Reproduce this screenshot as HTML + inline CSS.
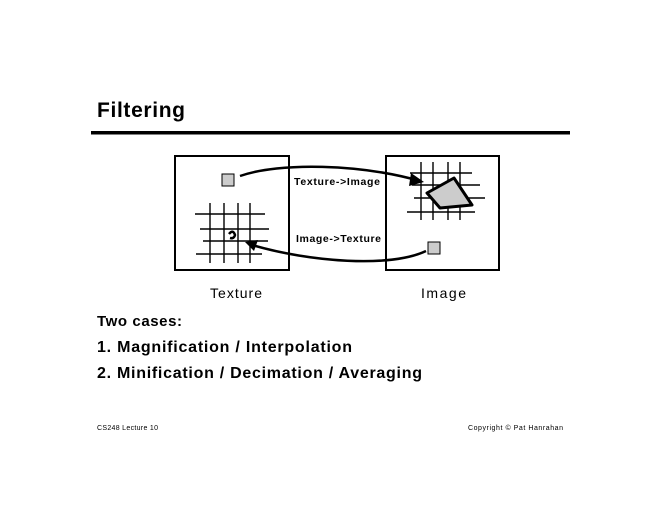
<!DOCTYPE html>
<html><head><style>
html,body{margin:0;padding:0;background:#fff;}
svg{display:block;font-family:"Liberation Sans",sans-serif;}
</style></head><body>
<svg width="660" height="510" viewBox="0 0 660 510">
<rect width="660" height="510" fill="#fff"/>
<text x="97" y="117" font-size="21" font-weight="bold" textLength="88">Filtering</text>
<rect x="91" y="131" width="479" height="3.5" fill="#000"/>
<rect x="175" y="156" width="114" height="114" fill="none" stroke="#000" stroke-width="2"/>
<rect x="386" y="156" width="113" height="114" fill="none" stroke="#000" stroke-width="2"/>
<g stroke="#000" stroke-width="1.4">
<line x1="210" y1="203" x2="210" y2="263"/><line x1="224" y1="203" x2="224" y2="263"/>
<line x1="238" y1="203" x2="238" y2="263"/><line x1="250" y1="203" x2="250" y2="263"/>
<line x1="195" y1="214" x2="265" y2="214"/><line x1="200" y1="229" x2="269" y2="229"/>
<line x1="203" y1="241" x2="268" y2="241"/><line x1="196" y1="254" x2="262" y2="254"/>
<line x1="421" y1="162" x2="421" y2="220"/><line x1="433" y1="162" x2="433" y2="220"/>
<line x1="448" y1="162" x2="448" y2="220"/><line x1="460" y1="162" x2="460" y2="220"/>
<line x1="410" y1="173" x2="472" y2="173"/><line x1="412" y1="185" x2="480" y2="185"/>
<line x1="414" y1="198" x2="485" y2="198"/><line x1="407" y1="212" x2="475" y2="212"/>
</g>
<polygon points="427,193 454,178 472,205 440,208" fill="#ccc" stroke="#000" stroke-width="3" stroke-linejoin="round"/>
<rect x="222" y="174" width="12" height="12" fill="#ccc" stroke="#000" stroke-width="1"/>
<rect x="428" y="242" width="12" height="12" fill="#ccc" stroke="#000" stroke-width="1"/>
<path d="M229,234 q4,-5 6,1 q-1,4 -5,3" fill="none" stroke="#000" stroke-width="2.5"/>
<path d="M240,176 C280,162 360,164 420,181" fill="none" stroke="#000" stroke-width="2.5"/>
<polygon points="424,182 411,173 409,186" fill="#000"/>
<path d="M426,251 C390,268 310,262 252,245" fill="none" stroke="#000" stroke-width="2.5"/>
<polygon points="245,242 258,240 254,251" fill="#000"/>
<text x="294" y="185" font-size="10.5" font-weight="bold" textLength="86">Texture-&gt;Image</text>
<text x="296" y="242" font-size="10.5" font-weight="bold" textLength="85">Image-&gt;Texture</text>
<text x="210" y="298" font-size="14" textLength="52">Texture</text>
<text x="421" y="298" font-size="14" textLength="45">Image</text>
<text x="97" y="326" font-size="15" font-weight="bold" textLength="85">Two cases:</text>
<text x="97" y="352" font-size="16" font-weight="bold" textLength="255">1.  Magnification / Interpolation</text>
<text x="97" y="378" font-size="16" font-weight="bold" textLength="325">2.  Minification / Decimation / Averaging</text>
<text x="97" y="430" font-size="7" textLength="61">CS248 Lecture 10</text>
<text x="468" y="430" font-size="7" textLength="95">Copyright © Pat Hanrahan</text>
</svg>
</body></html>
